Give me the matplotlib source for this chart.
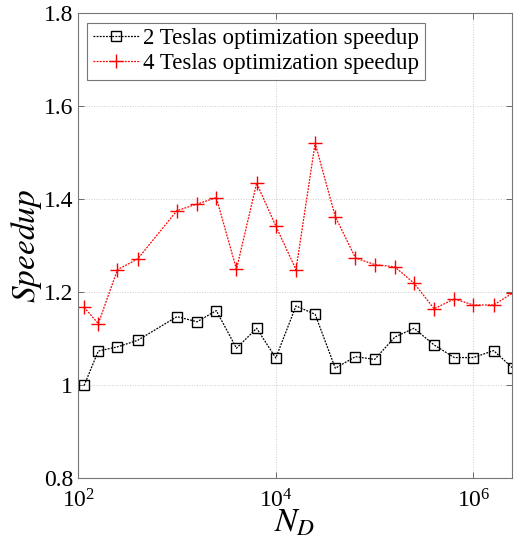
import numpy as np
import matplotlib
matplotlib.use('Agg')
import matplotlib.pyplot as plt
from matplotlib.ticker import NullLocator

plt.rcParams['font.family'] = 'Liberation Serif'
plt.rcParams['mathtext.fontset'] = 'stix'

n_d = [115, 160, 250, 400, 1000, 1600, 2500, 4000, 6400, 10000, 16000, 25000,
       40000, 64000, 100000, 160000, 250000, 400000, 640000, 1000000, 1600000, 2500000]

speedup_2 = [1.000, 1.074, 1.083, 1.097, 1.148, 1.137, 1.161, 1.080, 1.123, 1.059, 1.171,
             1.153, 1.037, 1.062, 1.056, 1.104, 1.123, 1.087, 1.060, 1.060, 1.075, 1.037]

speedup_4 = [1.168, 1.133, 1.249, 1.272, 1.376, 1.390, 1.404, 1.250, 1.435, 1.343, 1.249,
             1.521, 1.363, 1.274, 1.260, 1.255, 1.220, 1.165, 1.186, 1.173, 1.173, 1.199]

fig = plt.figure(figsize=(5.14, 5.37), dpi=100)
ax = fig.add_axes([0.152, 0.109, 0.844, 0.866])

ax.plot(n_d, speedup_2, linestyle=(0, (1.5, 1)), color='black', linewidth=0.9,
        marker='s', markersize=7, markerfacecolor='none', markeredgewidth=1.0,
        label='2 Teslas optimization speedup')
ax.plot(n_d, speedup_4, linestyle=(0, (1.5, 1)), color='red', linewidth=0.9,
        marker='+', markersize=10, markeredgewidth=1.0,
        label='4 Teslas optimization speedup')

ax.set_xscale('log')
ax.set_xlim(100, 2.45e6)
ax.set_ylim(0.8, 1.8)
ax.set_xticks([1e2, 1e4, 1e6])
ax.xaxis.set_minor_locator(NullLocator())
ax.set_yticks(np.arange(0.8, 1.81, 0.2))
ax.set_yticklabels(['0.8', '1', '1.2', '1.4', '1.6', '1.8'])

ax.tick_params(direction='in', labelsize=17, length=4, width=0.6, colors='#555555',
               labelcolor='black', top=True, right=True)
ax.tick_params(axis='x', pad=7.5)
for s in ax.spines.values():
    s.set_color('#777777')
    s.set_linewidth(0.8)

ax.grid(True, linestyle=':', color='#cccccc', linewidth=0.7)

ax.set_xlabel('$N_D$', fontsize=24, labelpad=-3)
ax.set_ylabel('$Speedup$', fontsize=24, labelpad=0)

leg = ax.legend(loc='upper left', fontsize=16.5, frameon=True, fancybox=False,
                borderpad=0.25, handlelength=2.0, handletextpad=0.2, labelspacing=0.15,
                borderaxespad=0.4)
leg.get_frame().set_edgecolor('#555555')
leg.get_frame().set_linewidth(0.8)

fig.savefig('out.png', dpi=100)
